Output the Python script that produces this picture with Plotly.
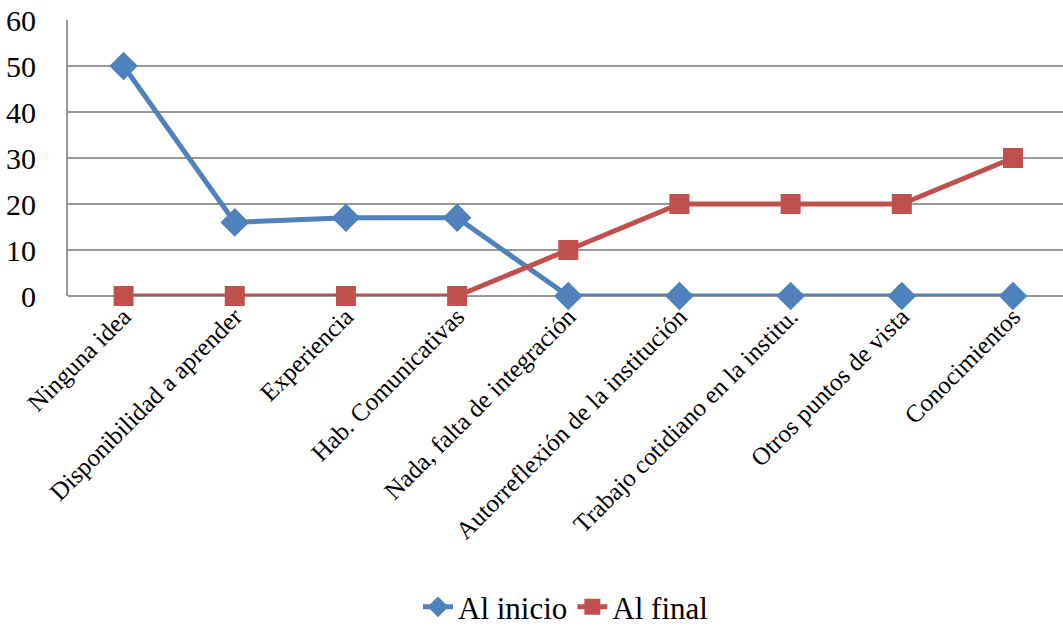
import plotly.graph_objects as go

categories = ["Ninguna idea", "Disponibilidad a aprender", "Experiencia",
              "Hab. Comunicativas", "Nada, falta de integración",
              "Autorreflexión de la institución", "Trabajo cotidiano en la institu.",
              "Otros puntos de vista", "Conocimientos"]
al_inicio = [50, 16, 17, 17, 0, 0, 0, 0, 0]
al_final = [0, 0, 0, 0, 10, 20, 20, 20, 30]
y_ticks = [0, 10, 20, 30, 40, 50, 60]

font = "Liberation Serif, Times New Roman, serif"

fig = go.Figure()
fig.add_trace(go.Scatter(
    x=list(range(len(categories))), y=al_inicio, name="Al inicio",
    mode="lines+markers", cliponaxis=False,
    line=dict(color="#4F81BD", width=5),
    marker=dict(symbol="diamond", size=22, color="#4F81BD"),
))
fig.add_trace(go.Scatter(
    x=list(range(len(categories))), y=al_final, name="Al final",
    mode="lines+markers", cliponaxis=False,
    line=dict(color="#C0504D", width=5),
    marker=dict(symbol="square", size=20, color="#C0504D"),
))

fig.update_layout(
    width=1063, height=626,
    margin=dict(l=68, r=0, t=20, b=330),
    paper_bgcolor="white", plot_bgcolor="white",
    font=dict(family=font, size=25, color="black"),
    showlegend=True,
    legend=dict(orientation="h", x=0.5, xanchor="center",
                yref="container", y=0.03, yanchor="middle",
                font=dict(size=31, family=font),
                tracegroupgap=0),
    xaxis=dict(
        tickmode="array", tickvals=list(range(len(categories))),
        ticktext=categories, tickangle=-45,
        range=[-0.5, 8.45], showgrid=False, zeroline=False,
        showline=False, ticks="",
        tickfont=dict(size=25, family=font),
    ),
    yaxis=dict(
        range=[0, 60], tickvals=y_ticks, ticks="",
        showgrid=True, gridcolor="#989898", gridwidth=2,
        zeroline=True, zerolinecolor="#989898", zerolinewidth=2,
        showline=True, linecolor="#989898", linewidth=2,
        tickfont=dict(size=30, family=font),
        ticklabelstandoff=24,
    ),
)

fig.write_html("out.html")
